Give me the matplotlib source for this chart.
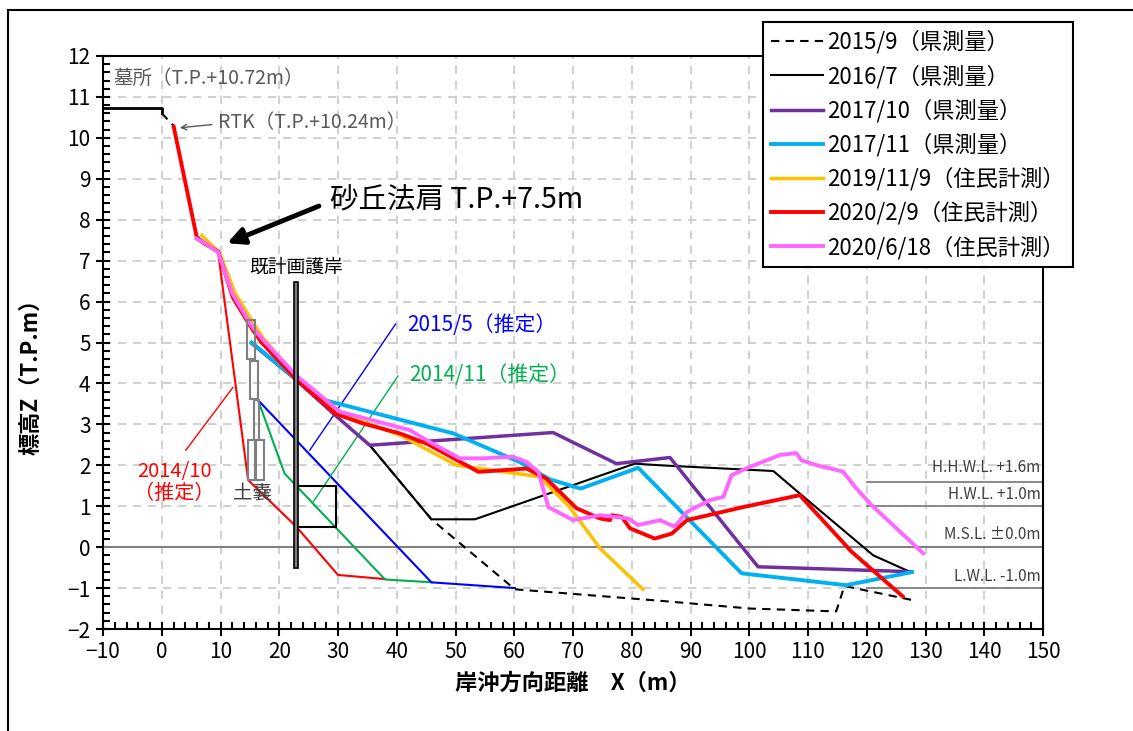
import matplotlib
matplotlib.use('Agg')
import matplotlib.pyplot as plt
from matplotlib.lines import Line2D
from matplotlib.patches import Rectangle
from matplotlib.ticker import MultipleLocator

plt.rcParams['font.family'] = ['Noto Sans CJK JP', 'DejaVu Sans']

# --- survey profiles (x: m, z: T.P.m) ---
x_2015_9 = [0, 2.0, 5.9, 9.6, 12.1, 15.3, 17.0, 22.9, 29.7, 35.4, 45.9, 60.1, 84.8, 100.1, 114.8, 116.2, 128.0]
z_2015_9 = [10.6, 10.3, 7.6, 7.2, 6.1, 5.38, 5.06, 4.08, 3.2, 2.49, 0.68, -1.03, -1.31, -1.5, -1.57, -0.95, -1.3]

x_2016_7 = [16.9, 22.6, 29.7, 35.4, 45.9, 53.3, 80.5, 84.8, 104.1, 108.6, 121.1, 127.3]
z_2016_7 = [5.0, 4.12, 3.2, 2.49, 0.68, 0.68, 2.04, 2.0, 1.86, 1.31, -0.2, -0.6]

x_2017_10 = [15.3, 22.6, 29.7, 35.4, 66.6, 77.4, 86.5, 101.5, 127.6]
z_2017_10 = [4.98, 4.12, 3.2, 2.49, 2.8, 2.04, 2.19, -0.48, -0.6]

x_2017_11 = [15.3, 22.6, 27.5, 49.6, 60.9, 66.0, 71.3, 81.1, 98.7, 116.5, 127.7]
z_2017_11 = [5.0, 4.14, 3.6, 2.78, 2.08, 1.66, 1.43, 1.94, -0.64, -0.93, -0.61]

x_2019_11_9 = [6.8, 9.8, 12.5, 15.5, 17.3, 23.0, 30.3, 40.5, 50.2, 64.3, 69.4, 74.6, 81.9]
z_2019_11_9 = [7.62, 7.2, 6.2, 5.5, 5.1, 4.15, 3.27, 2.74, 2.0, 1.72, 0.98, -0.03, -1.03]

x_2020_2_9 = [2.04, 6.0, 7.5, 9.6, 12.1, 15.3, 17.0, 22.9, 29.7, 34.3, 40.5, 45.1, 53.9, 62.1, 65.4,
              70.6, 74.6, 76.3, 76.6, 78.3, 79.7, 83.9, 86.8, 89.4, 99.0, 108.6, 117.4, 126.1]
z_2020_2_9 = [10.27, 7.54, 7.4, 7.22, 6.1, 5.35, 5.0, 4.1, 3.25, 3.02, 2.78, 2.53, 1.84, 1.92, 1.68,
              0.95, 0.7, 0.66, 0.78, 0.74, 0.46, 0.21, 0.33, 0.66, 0.98, 1.27, -0.11, -1.2]

x_2020_6_18 = [5.9, 7.5, 9.6, 12.0, 15.3, 17.0, 23.0, 30.3, 42.2, 45.6, 50.7, 54.7, 59.8, 62.1, 64.1, 65.8,
               70.0, 74.6, 79.4, 81.1, 84.8, 87.3, 89.4, 93.3, 95.6, 97.0, 100.1, 105.2, 108.0, 108.9,
               112.0, 114.5, 116.0, 118.0, 120.8, 129.6]
z_2020_6_18 = [7.54, 7.42, 7.2, 6.2, 5.4, 5.1, 4.18, 3.31, 2.86, 2.57, 2.17, 2.17, 2.21, 2.08, 1.84, 0.98,
               0.66, 0.78, 0.7, 0.54, 0.66, 0.5, 0.86, 1.15, 1.23, 1.76, 1.96, 2.25, 2.3, 2.12,
               1.98, 1.9, 1.84, 1.47, 1.03, -0.15]

# --- estimated profiles ---
x_est_2014_10 = [9.6, 14.7, 22.9, 30.0, 38.0]
z_est_2014_10 = [7.2, 1.64, 0.5, -0.68, -0.78]
x_est_2014_11 = [16.4, 20.9, 38.0, 46.0]
z_est_2014_11 = [3.59, 1.8, -0.79, -0.86]
x_est_2015_5 = [16.4, 45.9, 60.1]
z_est_2015_5 = [3.59, -0.86, -1.0]

# cemetery crest
x_grave = [-10, 0, 0]
z_grave = [10.72, 10.72, 10.6]

# water levels
wl_labels = ['H.H.W.L. +1.6m', 'H.W.L. +1.0m', 'M.S.L. ±0.0m', 'L.W.L. -1.0m']
wl_values = [1.6, 1.0, 0.0, -1.0]

# sandbags (x0, z0, x1, z1)
sandbags = [(14.5, 4.59, 15.8, 5.56), (15.0, 3.61, 16.4, 4.55), (15.7, 2.61, 16.6, 3.59),
            (14.7, 1.64, 16.0, 2.61), (15.8, 1.64, 17.4, 2.61)]

series = [
    (x_2015_9, z_2015_9, 'black', 1.5, (0, (4, 3)), '2015/9（県測量）'),
    (x_2016_7, z_2016_7, 'black', 1.5, '-', '2016/7（県測量）'),
    (x_2017_10, z_2017_10, '#7030A0', 2.5, '-', '2017/10（県測量）'),
    (x_2017_11, z_2017_11, '#00B0F0', 2.8, '-', '2017/11（県測量）'),
    (x_2019_11_9, z_2019_11_9, '#FFC000', 2.5, '-', '2019/11/9（住民計測）'),
    (x_2020_2_9, z_2020_2_9, '#FF0000', 2.8, '-', '2020/2/9（住民計測）'),
    (x_2020_6_18, z_2020_6_18, '#FF66FF', 2.8, '-', '2020/6/18（住民計測）'),
]

fig = plt.figure(figsize=(11.33, 7.31), dpi=100)
ax = fig.add_axes([103 / 1133, 1 - 629 / 731, 940 / 1133, 573 / 731])

ax.set_xlim(-10, 150)
ax.set_ylim(-2, 12)
ax.xaxis.set_major_locator(MultipleLocator(10))
ax.xaxis.set_minor_locator(MultipleLocator(2))
ax.yaxis.set_major_locator(MultipleLocator(1))
ax.yaxis.set_minor_locator(MultipleLocator(0.2))
ax.grid(True, which='major', color='#C8C8C8', linestyle=(0, (5, 4)), linewidth=1.2)
ax.set_axisbelow(True)
ax.tick_params(which='major', direction='inout', length=10, width=1.5, labelsize=15, pad=4)
ax.tick_params(which='minor', direction='in', length=5, width=1.5)
for s in ax.spines.values():
    s.set_linewidth(1.5)

# water level lines
ax.axhline(0, color='#808080', lw=1.5, zorder=1)
for v in [1.6, 1.0, -1.0]:
    ax.plot([120, 150], [v, v], color='#808080', lw=1.3, zorder=1)
wl_text_y = [1.95, 1.29, 0.32, -0.71]
for lab, ty in zip(wl_labels, wl_text_y):
    ax.text(149.6, ty, lab, ha='right', va='center', fontsize=11, color='#404040')

# estimated profiles
ax.plot(x_est_2014_10, z_est_2014_10, color='#FF0000', lw=1.5, zorder=2)
ax.plot(x_est_2014_11, z_est_2014_11, color='#00B050', lw=1.5, zorder=2)
ax.plot(x_est_2015_5, z_est_2015_5, color='#0000FF', lw=1.5, zorder=2)

# structures
ax.plot(x_grave, z_grave, color='black', lw=2, zorder=3)
for x0, z0, x1, z1 in sandbags:
    ax.add_patch(Rectangle((x0, z0), x1 - x0, z1 - z0, fill=False, edgecolor='#808080', lw=1.5, zorder=6))
ax.add_patch(Rectangle((22.8, 0.49), 6.8, 1.0, fill=False, edgecolor='black', lw=1.5, zorder=6))
ax.add_patch(Rectangle((22.45, -0.52), 0.75, 7.0, facecolor='#808080', edgecolor='black', lw=1.2, zorder=7))

handles = []
for xs, zs, c, lw, ls, lab in series:
    ax.plot(xs, zs, color=c, lw=lw, ls=ls, zorder=4)
    handles.append(Line2D([], [], color=c, lw=lw, ls=ls, label=lab))

# annotations
ax.text(-8.3, 11.46, '墓所（T.P.+10.72m）', fontsize=14, color='#595959', va='center')
ax.text(9.5, 10.36, 'RTK（T.P.+10.24m）', fontsize=14, color='#595959', va='center')
ax.annotate('', xy=(2.6, 10.24), xytext=(9.0, 10.33),
            arrowprops=dict(arrowstyle='->', color='#595959', lw=1.0))
ax.text(28.6, 8.48, '砂丘法肩 T.P.+7.5m', fontsize=20.5, color='black', va='center')
ax.annotate('', xy=(10.7, 7.4), xytext=(27.2, 8.36),
            arrowprops=dict(arrowstyle='-|>', color='black', lw=3.5, mutation_scale=25))
ax.text(22.8, 6.85, '既計画護岸', fontsize=13.5, ha='center', va='center')
ax.text(15.4, 1.3, '土嚢', fontsize=14, color='#404040', ha='center', va='center', zorder=8)

ax.text(41.7, 5.42, '2015/5（推定）', fontsize=15, color='#0000FF', va='center')
ax.plot([25.2, 39.8], [2.37, 5.45], color='#0000FF', lw=1.0)
ax.text(42.2, 4.2, '2014/11（推定）', fontsize=15, color='#00B050', va='center')
ax.plot([25.8, 40.2], [1.11, 4.18], color='#00B050', lw=1.0)
ax.text(2.2, 1.58, '2014/10\n（推定）', fontsize=14.5, color='#FF0000', ha='center', va='center',
        linespacing=1.05)
ax.plot([4.1, 12.1], [2.37, 3.9], color='#FF0000', lw=1.0)

ax.set_xlabel('岸沖方向距離　X（m）', fontsize=16, fontweight='bold', labelpad=6)
ax.set_ylabel('標高Z（T.P.m）', fontsize=16, fontweight='bold')
ax.yaxis.set_label_coords(-0.065, 0.45)

leg = ax.legend(handles=handles, loc='upper left', bbox_to_anchor=(763 / 1133, 1 - 22 / 731),
                bbox_transform=fig.transFigure, fontsize=16, frameon=True, fancybox=False,
                edgecolor='black', framealpha=1, handlelength=2.3, handletextpad=0.2,
                labelspacing=0.48, borderpad=0.38, borderaxespad=0)
leg.get_frame().set_linewidth(1.5)
leg.set_zorder(10)

# outer frame
fig.add_artist(Line2D([8 / 1133, 8 / 1133], [0, 1 - 10 / 731], transform=fig.transFigure, color='black', lw=1.5))
fig.add_artist(Line2D([8 / 1133, 1], [1 - 10 / 731, 1 - 10 / 731], transform=fig.transFigure, color='black', lw=1.5))

fig.savefig('out.png', dpi=100)
